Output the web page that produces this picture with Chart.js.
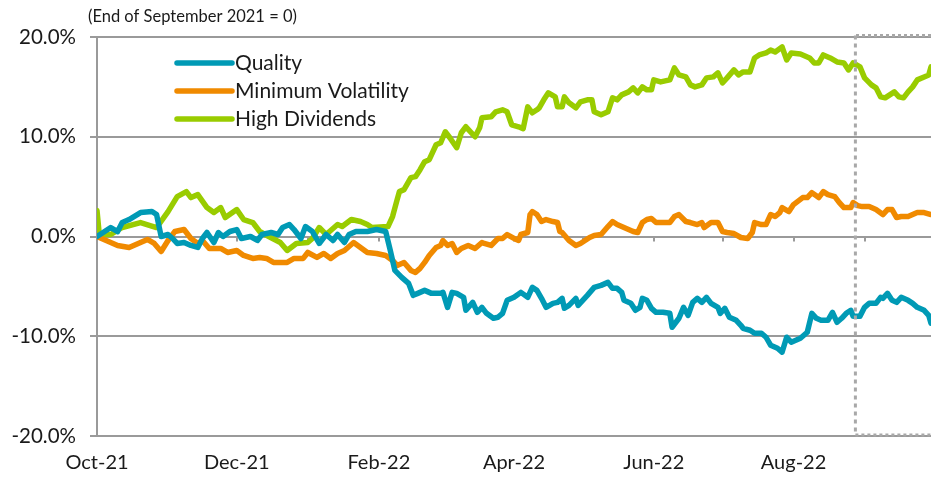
<!DOCTYPE html>
<html lang="en">
<head>
<meta charset="UTF-8" />
<title>Factor performance since end of September 2021</title>
<script src="https://cdn.jsdelivr.net/npm/chart.js"></script>
<style>
  body { margin:0; background:#fff; }
  .wrap { width:931px; height:479px; position:relative; }
</style>
</head>
<body>
<div class="wrap"><canvas id="chart"></canvas></div>
<script>
// x = days since 1 Oct 2021, y = cumulative return in %
const monthStarts = [0,31,61,92,123,151,182,212,243,273,304,335];
const monthLabels = ['Oct-21','','Dec-21','','Feb-22','','Apr-22','','Jun-22','','Aug-22',''];
const yTicks = [-20,-10,0,10,20];
const boxStart = 331; // start of shaded (dotted) period, late Aug 2022
const note = '(End of September 2021 = 0)';

const quality = [[0,0],[6,0.9],[9,0.5],[11,1.4],[14,1.7],[19,2.4],[24,2.5],[26,2.2],[28,0],[31,0.2],[33,-0.2],[35,-0.7],[38,-0.6],[41,-0.9],[44,-1.1],[46,-0.2],[48,0.4],[51,-0.6],[53,0.4],[55,0],[58,0.5],[61,0.7],[63,-0.2],[67,0],[70,-0.4],[72,0.2],[76,0.4],[79,0.2],[81,0.9],[84,1.2],[86,0.7],[89,-0.2],[91,1.0],[94,0.5],[97,-0.7],[100,0.2],[103,-0.4],[105,0.2],[108,-0.6],[110,0.2],[113,0.5],[118,0.5],[122,0.7],[126,0.5],[128,-1.4],[130,-3.4],[133,-4.1],[136,-4.7],[138,-5.9],[140,-5.7],[143,-5.4],[146,-5.7],[150,-5.7],[151,-5.6],[153,-7.1],[155,-5.6],[157,-5.7],[160,-6.1],[161,-7.4],[164,-6.6],[166,-7.6],[168,-7.1],[170,-7.7],[173,-8.2],[175,-8.1],[177,-7.7],[179,-6.4],[182,-6.1],[185,-5.6],[188,-6.1],[190,-5.1],[192,-5.4],[194,-6.2],[196,-7.1],[199,-6.7],[201,-6.6],[203,-6.2],[204,-7.2],[206,-6.9],[209,-6.2],[210,-6.9],[212,-6.4],[214,-5.9],[217,-5.1],[220,-4.9],[223,-4.6],[225,-5.2],[227,-5.2],[229,-5.6],[230,-6.4],[233,-6.7],[235,-7.4],[237,-7.1],[238,-6.2],[240,-6.4],[242,-7.2],[244,-7.6],[247,-7.6],[250,-7.7],[251,-9.1],[254,-8.2],[256,-7.1],[258,-7.9],[260,-6.6],[262,-6.2],[264,-6.6],[266,-6.1],[268,-6.7],[271,-7.1],[272,-7.7],[274,-7.2],[276,-8.1],[279,-8.4],[281,-8.9],[282,-9.2],[285,-9.4],[287,-9.7],[290,-9.7],[292,-10.1],[294,-10.9],[297,-11.2],[299,-11.6],[301,-10.1],[303,-10.6],[307,-10.2],[310,-9.6],[312,-7.7],[314,-8.2],[316,-8.4],[319,-8.4],[321,-7.6],[323,-8.6],[325,-8.2],[327,-7.7],[329,-7.4],[330,-8.0],[333,-8.0],[335,-7.1],[337,-6.7],[340,-6.7],[342,-6.1],[343,-6.2],[345,-5.7],[347,-6.4],[349,-6.6],[351,-6.1],[354,-6.4],[356,-6.7],[358,-7.1],[361,-7.4],[363,-7.9],[364,-8.7]];

const minVol = [[0,0],[4,-0.4],[9,-0.9],[14,-1.1],[19,-0.6],[22,-0.3],[25,-0.7],[28,-1.5],[31,-0.4],[34,0.5],[38,0.7],[41,-0.2],[44,-0.7],[46,-0.4],[49,-1.2],[54,-1.2],[57,-1.6],[61,-1.4],[64,-1.9],[68,-2.2],[71,-2.1],[74,-2.2],[77,-2.6],[83,-2.6],[86,-2.2],[90,-2.2],[92,-1.6],[96,-2.1],[99,-1.7],[102,-2.2],[105,-1.7],[108,-1.4],[112,-0.6],[115,-1.1],[118,-1.6],[122,-1.7],[126,-1.9],[129,-2.4],[131,-2.9],[134,-2.6],[137,-3.4],[139,-3.6],[141,-3.2],[143,-2.6],[145,-1.9],[148,-1.1],[150,-0.9],[151,-0.4],[153,-0.9],[155,-0.7],[157,-1.6],[159,-1.2],[162,-0.9],[165,-1.2],[168,-0.6],[169,-0.7],[172,-0.9],[175,-0.2],[177,-0.2],[179,0.2],[182,-0.2],[184,-0.4],[185,0.2],[188,0.4],[189,2.2],[190,2.5],[192,2.2],[194,1.5],[196,1.7],[199,1.5],[201,1.4],[202,0.5],[203,0.4],[206,-0.4],[209,-0.9],[211,-0.7],[213,-0.4],[215,-0.1],[217,0.1],[220,0.2],[223,1.0],[225,1.5],[227,1.2],[230,0.9],[232,0.7],[234,0.5],[236,0.4],[238,1.4],[240,1.7],[242,1.8],[244,1.4],[250,1.4],[252,2.0],[254,2.2],[257,1.5],[259,1.4],[262,1.2],[264,1.4],[265,0.9],[268,1.4],[271,1.4],[273,0.5],[275,0.4],[278,0.3],[281,-0.1],[284,-0.2],[286,0.4],[287,1.4],[290,1.2],[292,1.2],[294,2.2],[296,2.0],[298,2.4],[299,2.9],[302,2.5],[304,3.2],[308,3.9],[310,3.9],[312,4.4],[315,3.9],[317,4.5],[319,4.2],[322,4.0],[324,3.4],[326,2.9],[329,2.9],[330,3.4],[332,3.1],[334,3.0],[337,3.0],[340,2.7],[343,2.2],[345,2.7],[347,2.7],[349,1.9],[351,2.0],[354,2.0],[356,2.2],[358,2.4],[361,2.4],[364,2.2]];

const highDiv = [[0,2.6],[1,0.2],[6,0.2],[11,0.9],[19,1.4],[26,0.9],[31,2.5],[35,4.0],[39,4.5],[41,3.9],[44,4.2],[48,2.9],[51,2.4],[54,2.9],[56,1.9],[61,2.7],[64,1.7],[68,1.4],[71,0.5],[75,0],[80,-0.6],[83,-1.4],[87,-0.7],[92,-0.6],[94,-0.2],[97,0.9],[100,0.2],[105,1.2],[107,1.0],[111,1.7],[115,1.5],[118,1.2],[120,0.9],[127,1.0],[129,2.0],[131,3.7],[132,4.5],[134,4.7],[137,5.9],[139,6.0],[141,6.7],[143,7.5],[145,7.7],[148,9.2],[150,9.4],[152,10.5],[154,9.9],[157,8.9],[159,10.4],[161,11.0],[165,10.0],[167,10.9],[168,11.9],[172,12.0],[174,12.5],[177,12.7],[179,12.5],[181,11.2],[184,11.0],[186,10.8],[188,13.0],[190,12.4],[192,12.7],[193,12.9],[195,13.7],[197,14.4],[200,14.0],[201,13.0],[203,13.0],[204,14.0],[206,13.4],[209,12.9],[211,13.5],[214,13.7],[216,13.7],[217,12.5],[220,12.2],[223,12.5],[225,13.9],[227,13.7],[229,14.2],[232,14.5],[234,14.9],[236,14.4],[238,15.0],[240,14.7],[242,14.7],[243,15.7],[246,15.5],[250,15.7],[252,16.9],[254,16.2],[257,16.0],[259,15.2],[261,15.0],[264,15.2],[266,15.9],[269,16.0],[271,16.4],[273,15.4],[275,15.9],[278,16.7],[280,16.2],[282,16.5],[285,16.5],[287,17.9],[289,18.2],[292,18.4],[294,18.7],[296,18.5],[299,19.0],[301,17.7],[303,18.4],[307,18.3],[311,17.9],[313,17.4],[315,17.4],[317,18.2],[320,17.9],[323,17.5],[326,17.4],[328,16.7],[330,17.4],[333,17.0],[335,15.9],[338,15.2],[340,14.9],[342,14.0],[344,13.9],[346,14.2],[348,14.5],[350,14.0],[352,13.9],[354,14.5],[356,15.0],[358,15.7],[361,16.0],[363,16.2],[364,17.0]];

const FONT = 'Lato, "Noto Sans", sans-serif';
const GRID = '#9a9a9a';

const toXY = arr => arr.map(([x, y]) => ({ x, y }));

// month ticks on the zero line, dotted box, legend and the note
const extras = {
  id: 'extras',
  beforeDatasetsDraw(chart) {
    const { ctx, scales: { x, y } } = chart;
    const y0 = y.getPixelForValue(0);
    ctx.save();
    ctx.strokeStyle = GRID;
    ctx.lineWidth = 2;
    monthStarts.slice(1).forEach(d => {
      const px = Math.round(x.getPixelForValue(d));
      ctx.beginPath(); ctx.moveTo(px, y0); ctx.lineTo(px, y0 + 5); ctx.stroke();
    });
    ctx.restore();
  },
  afterDatasetsDraw(chart) {
    const { ctx, chartArea: ca, scales: { x, y } } = chart;
    ctx.save();
    // dotted box over the latest period
    const bx = x.getPixelForValue(boxStart);
    const top = y.getPixelForValue(20) - 1.5, bot = y.getPixelForValue(-20) - 1;
    ctx.strokeStyle = '#a8a8a8';
    ctx.lineWidth = 3;
    ctx.setLineDash([3, 3]);
    ctx.beginPath(); ctx.moveTo(ca.right, top); ctx.lineTo(bx, top); ctx.stroke();
    ctx.beginPath(); ctx.moveTo(bx, bot); ctx.lineTo(ca.right, bot); ctx.stroke();
    ctx.setLineDash([4, 4]);
    ctx.beginPath(); ctx.moveTo(bx, top); ctx.lineTo(bx, bot); ctx.stroke();
    ctx.setLineDash([]);

    // legend
    ctx.font = '21px ' + FONT;
    ctx.textBaseline = 'middle';
    ctx.textAlign = 'left';
    chart.data.datasets.forEach((ds, i) => {
      const ly = ca.top + 26 + i * 28;
      ctx.strokeStyle = ds.borderColor;
      ctx.lineWidth = 5.5;
      ctx.lineCap = 'round';
      ctx.beginPath(); ctx.moveTo(ca.left + 80, ly); ctx.lineTo(ca.left + 135, ly); ctx.stroke();
      ctx.fillStyle = '#1a1a1a';
      ctx.fillText(ds.label, ca.left + 138, ly);
    });

    // note above the axis
    ctx.font = '16.5px ' + FONT;
    ctx.fillStyle = '#1a1a1a';
    ctx.fillText(note, 88, 17);
    ctx.restore();
  }
};

const lineStyle = { borderWidth: 5.5, pointRadius: 0, tension: 0, borderJoinStyle: 'round', borderCapStyle: 'round', fill: false };

new Chart(document.getElementById('chart'), {
  type: 'line',
  data: {
    datasets: [
      { label: 'Quality', data: toXY(quality), borderColor: '#009ab5', ...lineStyle },
      { label: 'Minimum Volatility', data: toXY(minVol), borderColor: '#f08a00', ...lineStyle },
      { label: 'High Dividends', data: toXY(highDiv), borderColor: '#99cc00', ...lineStyle }
    ]
  },
  options: {
    responsive: true,
    maintainAspectRatio: false,
    animation: false,
    layout: { padding: { top: 37, right: 0, left: 0, bottom: 0 } },
    plugins: { legend: { display: false }, tooltip: { enabled: false } },
    scales: {
      x: {
        type: 'linear',
        min: monthStarts[0], max: 364,
        afterBuildTicks: s => { s.ticks = monthStarts.map(v => ({ value: v })); },
        afterFit: s => { s.height = 43; },
        grid: { display: false, drawTicks: false },
        border: { display: false },
        ticks: {
          autoSkip: false, maxRotation: 0, padding: 15,
          color: '#1a1a1a', font: { family: FONT, size: 20 },
          callback: (v, i) => monthLabels[i]
        }
      },
      y: {
        min: -20, max: 20,
        afterBuildTicks: s => { s.ticks = yTicks.map(v => ({ value: v })); },
        afterFit: s => { s.width = 97; },
        grid: { color: GRID, lineWidth: 2, tickLength: 7 },
        border: { display: true, color: GRID, width: 2 },
        ticks: {
          padding: 14, color: '#1a1a1a', font: { family: FONT, size: 20.5 },
          callback: v => v.toFixed(1) + '%'
        }
      }
    }
  },
  plugins: [extras]
});
</script>
</body>
</html>
